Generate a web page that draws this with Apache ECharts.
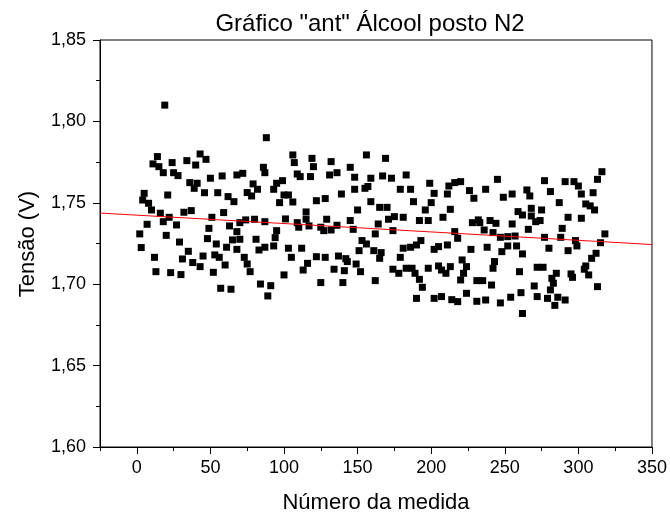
<!DOCTYPE html>
<html>
<head>
<meta charset="utf-8">
<script src="https://cdn.jsdelivr.net/npm/echarts@6/dist/echarts.min.js"></script>
<style>
  html, body { margin: 0; padding: 0; background: #fff; }
  #chart { width: 670px; height: 520px; }
</style>
</head>
<body>
<div id="chart"></div>
<script>
// Voltage readings [measurement number, voltage in V]
const readings001to070 = [
  [14,1.7784],[11,1.7739],[15,1.7722],[18,1.7685],[24,1.7747],[25,1.7685],[28,1.7667],[34,1.7759],[40,1.7732],[43,1.7800],
  [47,1.7767],[50,1.7651],[58,1.7665],[68,1.7671],[36,1.7624],[41,1.7620],[39,1.7589],[46,1.7562],[55,1.7562],[62,1.7538],
  [66,1.7507],[5,1.7558],[4,1.7517],[8,1.7497],[10,1.7456],[21,1.7548],[16,1.7436],[22,1.7411],[18,1.7384],[27,1.7364],
  [32,1.7442],[37,1.7452],[51,1.7411],[59,1.7440],[63,1.7358],[68,1.7323],[7,1.7368],[2,1.7309],[20,1.7300],[29,1.7259],
  [48,1.7280],[49,1.7343],[54,1.7247],[3,1.7225],[12,1.7165],[35,1.7202],[31,1.7155],[38,1.7133],[43,1.7108],[45,1.7173],
  [53,1.7180],[56,1.7165],[60,1.7118],[61,1.7227],[65,1.7272],[68,1.7214],[13,1.7077],[23,1.7071],[30,1.7059],[52,1.7073],
  [57,1.6975],[64,1.6969],[19,1.8100]
];
const readings070to150 = [
  [106,1.7794],[107,1.7747],[119,1.7773],[120,1.7722],[132,1.7753],[145,1.7718],[148,1.7657],[86,1.7718],[87,1.7685],[72,1.7681],
  [109,1.7677],[111,1.7661],[118,1.7661],[131,1.7671],[136,1.7685],[79,1.7616],[82,1.7583],[93,1.7583],[95,1.7620],[99,1.7636],
  [75,1.7563],[78,1.7542],[100,1.7548],[103,1.7548],[97,1.7501],[106,1.7505],[122,1.7513],[128,1.7526],[139,1.7554],[148,1.7583],
  [115,1.7444],[101,1.7401],[109,1.7378],[115,1.7399],[129,1.7399],[110,1.7350],[117,1.7358],[125,1.7350],[127,1.7329],[132,1.7333],
  [136,1.7362],[145,1.7391],[147,1.7337],[150,1.7456],[74,1.7395],[80,1.7399],[87,1.7384],[70,1.7378],[95,1.7329],[94,1.7286],
  [93,1.7235],[87,1.7227],[83,1.7210],[81,1.7276],[70,1.7276],[103,1.7221],[112,1.7221],[105,1.7165],[122,1.7169],[128,1.7165],
  [137,1.7173],[142,1.7157],[143,1.7139],[73,1.7165],[75,1.7124],[77,1.7077],[116,1.7128],[113,1.7087],[134,1.7092],[141,1.7083],
  [149,1.7124],[100,1.7057],[125,1.7010],[140,1.7010],[84,1.7001],[91,1.6991],[89,1.6928],[88,1.7900]
];
const readings150to232 = [
  [156,1.7794],[169,1.7773],[159,1.7651],[167,1.7665],[173,1.7651],[183,1.7671],[199,1.7620],[212,1.7603],[216,1.7624],[220,1.7630],
  [226,1.7575],[229,1.7528],[155,1.7589],[157,1.7600],[179,1.7583],[186,1.7583],[202,1.7558],[211,1.7554],[159,1.7507],[165,1.7472],
  [170,1.7472],[188,1.7507],[200,1.7501],[196,1.7456],[213,1.7460],[175,1.7415],[171,1.7399],[181,1.7411],[192,1.7391],[198,1.7391],
  [208,1.7411],[228,1.7378],[232,1.7395],[164,1.7370],[162,1.7309],[174,1.7329],[216,1.7323],[218,1.7282],[153,1.7268],[156,1.7247],
  [151,1.7206],[161,1.7206],[166,1.7194],[165,1.7159],[179,1.7165],[181,1.7221],[186,1.7227],[190,1.7241],[193,1.7268],[202,1.7214],
  [205,1.7231],[211,1.7241],[227,1.7214],[152,1.7077],[174,1.7092],[178,1.7067],[183,1.7098],[187,1.7098],[189,1.7067],[192,1.7030],
  [198,1.7098],[205,1.7112],[207,1.7087],[210,1.7067],[213,1.7108],[221,1.7149],[224,1.7108],[222,1.7067],[220,1.7026],[231,1.7022],
  [162,1.7022],[194,1.6981],[224,1.6944],[190,1.6913],[202,1.6913],[207,1.6924],[218,1.6893]
];
const readings232to318 = [
  [316,1.7691],[313,1.7644],[277,1.7636],[291,1.7630],[297,1.7630],[300,1.7603],[302,1.7554],[310,1.7562],[245,1.7644],[237,1.7583],
  [249,1.7534],[255,1.7554],[265,1.7579],[267,1.7542],[281,1.7569],[287,1.7501],[305,1.7493],[308,1.7481],[311,1.7456],[259,1.7446],
  [262,1.7425],[268,1.7466],[275,1.7456],[268,1.7419],[271,1.7384],[274,1.7391],[293,1.7411],[302,1.7405],[255,1.7370],[266,1.7337],
  [289,1.7343],[233,1.7378],[240,1.7391],[244,1.7374],[236,1.7333],[242,1.7317],[247,1.7288],[252,1.7292],[257,1.7296],[277,1.7288],
  [288,1.7288],[298,1.7268],[299,1.7235],[315,1.7255],[318,1.7309],[238,1.7227],[252,1.7235],[258,1.7235],[248,1.7200],[262,1.7186],
  [280,1.7221],[293,1.7206],[312,1.7190],[309,1.7159],[243,1.7139],[242,1.7098],[260,1.7077],[272,1.7104],[276,1.7104],[305,1.7112],
  [304,1.7092],[307,1.7057],[285,1.7067],[282,1.7036],[295,1.7063],[296,1.7042],[235,1.7022],[241,1.6995],[270,1.6989],[283,1.7006],
  [281,1.6965],[313,1.6985],[261,1.6948],[254,1.6920],[272,1.6924],[279,1.6913],[286,1.6920],[291,1.6903],[237,1.6903],
  [214,1.6905],[231,1.6895],[247,1.6885],[262,1.6820],[284,1.6870]
];

// Linear fit V = a + b*n
const fitIntercept = 1.7424;
const fitSlope = -0.0000515;

// Axis ranges and ticks
const xRange = [-25, 350];
const xMajorTicks = [0, 50, 100, 150, 200, 250, 300, 350];
const xMinorTicks = [-25, 25, 75, 125, 175, 225, 275, 325];
const yRange = [1.60, 1.85];
const yStep = 0.05;

const titleText = 'Gráfico "ant" Álcool posto N2';
const xTitle = 'Número da medida';
const yTitle = 'Tensão (V)';

const points = [].concat(readings001to070, readings070to150, readings150to232, readings232to318);
const fitLine = xRange.map(n => [n, fitIntercept + fitSlope * n]);

const FONT = '"Liberation Sans", Arial, sans-serif';
const black = '#000';

const chart = echarts.init(document.getElementById('chart'), null, { renderer: 'canvas' });
chart.setOption({
  animation: false,
  backgroundColor: '#fff',
  grid: {
    left: 100, right: 18, top: 40, bottom: 73,
    show: true, borderColor: black, borderWidth: 1, backgroundColor: 'transparent'
  },
  xAxis: [
    {
      type: 'value', min: xRange[0], max: xRange[1], position: 'bottom',
      axisLine: { show: true, onZero: false, lineStyle: { color: black, width: 1 } },
      axisTick: { show: true, length: 7, customValues: xMajorTicks, lineStyle: { color: black } },
      axisLabel: { show: true, customValues: xMajorTicks, margin: 12, fontFamily: FONT, fontSize: 18, color: black },
      splitLine: { show: false }
    },
    {
      type: 'value', min: xRange[0], max: xRange[1], position: 'bottom',
      axisLine: { show: false, onZero: false },
      axisTick: { show: true, length: 4, customValues: xMinorTicks, lineStyle: { color: black } },
      axisLabel: { show: false },
      splitLine: { show: false }
    }
  ],
  yAxis: {
    type: 'value', min: yRange[0], max: yRange[1], interval: yStep,
    axisLine: { show: true, onZero: false, lineStyle: { color: black, width: 1 } },
    axisTick: { show: true, length: 7, lineStyle: { color: black } },
    minorTick: { show: true, splitNumber: 2, length: 4, lineStyle: { color: black } },
    axisLabel: {
      margin: 14, fontFamily: FONT, fontSize: 18, color: black,
      formatter: v => v.toFixed(2).replace('.', ',')
    },
    splitLine: { show: false }
  },
  graphic: [
    {
      type: 'text', x: 370, y: 24,
      style: { text: titleText, fontFamily: FONT, fontSize: 24, fill: black, textAlign: 'center', textVerticalAlign: 'middle' }
    },
    {
      type: 'text', x: 376, y: 503,
      style: { text: xTitle, fontFamily: FONT, fontSize: 22, fill: black, textAlign: 'center', textVerticalAlign: 'middle' }
    },
    {
      type: 'text', x: 28, y: 244, rotation: Math.PI / 2,
      style: { text: yTitle, fontFamily: FONT, fontSize: 22, fill: black, textAlign: 'center', textVerticalAlign: 'middle' }
    }
  ],
  series: [
    {
      type: 'scatter', xAxisIndex: 0, data: points,
      symbol: 'rect', symbolSize: 7,
      itemStyle: { color: black, opacity: 1 },
      z: 2
    },
    {
      type: 'line', xAxisIndex: 0, data: fitLine,
      symbol: 'none', lineStyle: { color: '#ff0000', width: 1 },
      z: 3
    }
  ]
});
</script>
</body>
</html>
